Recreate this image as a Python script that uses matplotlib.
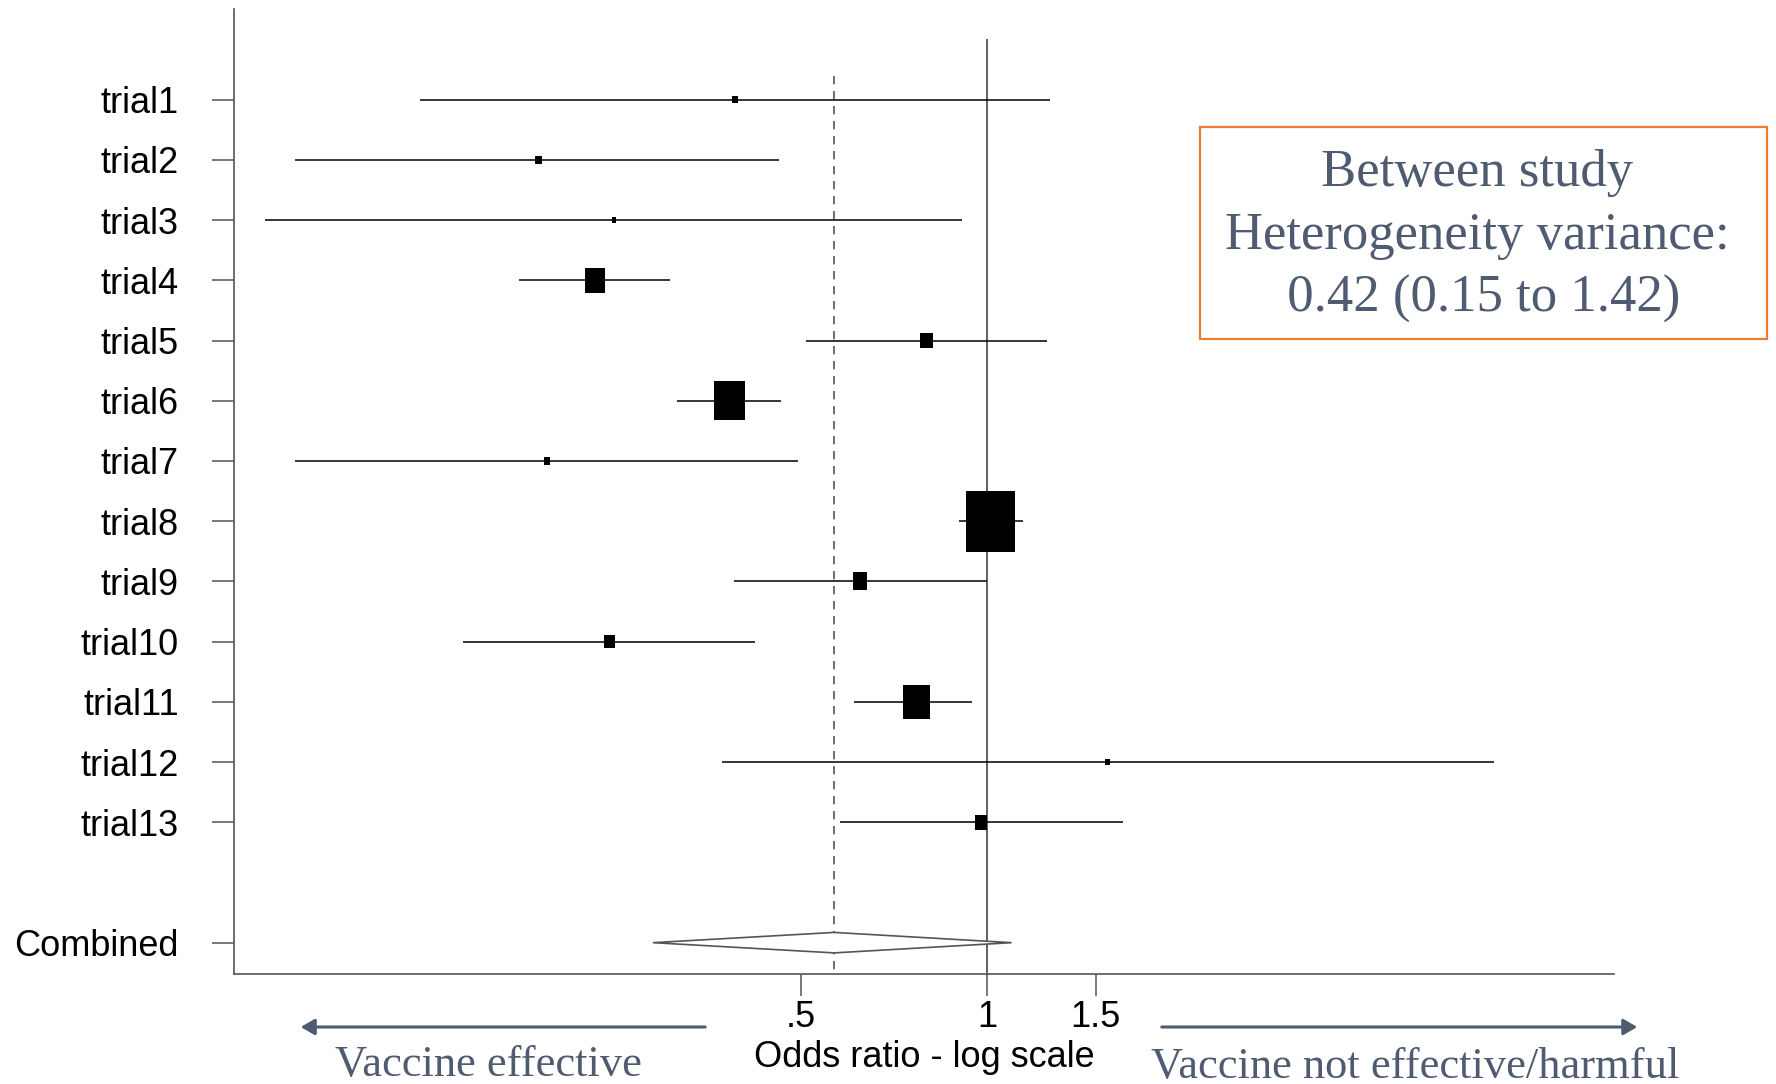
import numpy as np
import matplotlib
matplotlib.use("Agg")
import matplotlib.pyplot as plt
from matplotlib.path import Path
from matplotlib.patches import Polygon, Rectangle

# study data (odds ratios, log scale)
trials = ["trial1", "trial2", "trial3", "trial4", "trial5", "trial6", "trial7",
          "trial8", "trial9", "trial10", "trial11", "trial12", "trial13"]
odds_ratio = [0.391, 0.188, 0.249, 0.232, 0.799, 0.383, 0.194,
              1.013, 0.623, 0.245, 0.769, 1.566, 0.979]
ci_low = [0.121, 0.076, 0.068, 0.175, 0.510, 0.315, 0.076,
          0.900, 0.389, 0.142, 0.610, 0.372, 0.579]
ci_high = [1.267, 0.461, 0.911, 0.307, 1.251, 0.465, 0.495,
           1.145, 1.000, 0.422, 0.946, 6.600, 1.662]
weights = [0.56, 0.76, 0.39, 7.54, 3.05, 18.02, 0.76,
           45.45, 3.99, 2.24, 14.03, 0.56, 2.63]

combined_label = "Combined"
combined_est = 0.566
combined_low = 0.288
combined_high = 1.096

xtick_values = [0.5, 1, 1.5]
xtick_labels = [".5", "1", "1.5"]

box_text = "Between study\nHeterogeneity variance:\n 0.42 (0.15 to 1.42)"
left_note = "Vaccine effective"
right_note = "Vaccine not effective/harmful"

slate = "#4f5b70"
spine_col = "#555555"

fig = plt.figure(figsize=(17.76, 10.84), dpi=100)
ax = fig.add_axes([0.132, 0.1015, 0.7768, 0.8902])

ypos = np.arange(1, len(trials) + 1)
y_comb = len(trials) + 2

# confidence intervals and weighted boxes
ax.hlines(ypos, ci_low, ci_high, color="black", lw=1.1, zorder=2)
box = Path([(-0.4, -0.5), (0.4, -0.5), (0.4, 0.5), (-0.4, 0.5), (-0.4, -0.5)],
           [Path.MOVETO, Path.LINETO, Path.LINETO, Path.LINETO, Path.CLOSEPOLY])
ax.scatter(odds_ratio, ypos, s=np.array(weights) * 42.7, marker=box,
           color="black", linewidths=0, zorder=3)

# reference lines
ax.vlines(1, 0.0, 15.52, color=spine_col, lw=1.3, zorder=1)
ax.vlines(combined_est, 0.6, 15.52, color=spine_col, lw=1.2,
          linestyles=(0, (5, 4)), zorder=1)

# pooled diamond
dh = 0.17
diamond = Polygon([(combined_low, y_comb), (combined_est, y_comb - dh),
                   (combined_high, y_comb), (combined_est, y_comb + dh)],
                  closed=True, facecolor="white", edgecolor=spine_col,
                  lw=1.2, zorder=4)
ax.add_patch(diamond)

ax.set_xscale("log")
ax.set_xlim(0.0606, 10.34)
ax.set_ylim(15.52, -0.506)

ax.set_yticks(list(ypos) + [y_comb])
ax.set_yticklabels(trials + [combined_label], fontsize=26,
                   family="Liberation Sans")
ax.set_xticks(xtick_values)
ax.set_xticklabels(xtick_labels, fontsize=26, family="Liberation Sans")
ax.xaxis.set_minor_locator(matplotlib.ticker.NullLocator())
ax.tick_params(axis="y", length=16, width=1.1, color=spine_col, pad=24)
ax.tick_params(axis="x", length=16, width=1.1, color=spine_col, pad=3)
ax.set_xlabel("Odds ratio - log scale", fontsize=26, family="Liberation Sans",
              labelpad=3)

for side in ["top", "right"]:
    ax.spines[side].set_visible(False)
for side in ["left", "bottom"]:
    ax.spines[side].set_color(spine_col)
    ax.spines[side].set_linewidth(1.2)

# heterogeneity box
fig.add_artist(Rectangle((1199.5 / 1776, 1 - 339 / 1084), 567.5 / 1776, 212 / 1084,
                         transform=fig.transFigure, fill=False,
                         edgecolor="#ed7d31", lw=1.6))
fig.text(1477 / 1776, 1 - 236 / 1084, box_text, ha="center", va="center",
         fontsize=38, family="Liberation Serif", color=slate, linespacing=1.4)

# direction arrows
arrow_style = "-|>,head_length=5.5,head_width=3.2"
fig.add_artist(matplotlib.patches.FancyArrowPatch(
    (708 / 1776, 1 - 1027 / 1084), (298 / 1776, 1 - 1027 / 1084),
    transform=fig.transFigure, arrowstyle=arrow_style,
    color=slate, lw=2.2, mutation_scale=1.5))
fig.add_artist(matplotlib.patches.FancyArrowPatch(
    (1159 / 1776, 1 - 1027 / 1084), (1640 / 1776, 1 - 1027 / 1084),
    transform=fig.transFigure, arrowstyle=arrow_style,
    color=slate, lw=2.2, mutation_scale=1.5))
fig.text(488 / 1776, 1 - 1065 / 1084, left_note, ha="center", va="center",
         fontsize=32, family="Liberation Serif", color=slate)
fig.text(1415 / 1776, 1 - 1067 / 1084, right_note, ha="center", va="center",
         fontsize=32, family="Liberation Serif", color=slate)

fig.savefig("out.png", dpi=100)
